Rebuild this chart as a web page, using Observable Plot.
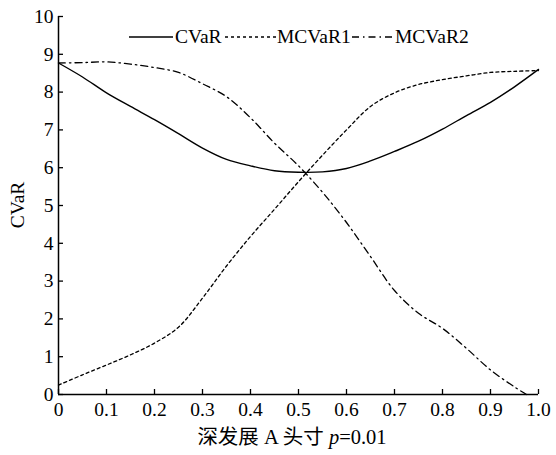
<!DOCTYPE html>
<html>
<head>
<meta charset="utf-8">
<script src="https://cdn.jsdelivr.net/npm/d3@7"></script>
<script src="https://cdn.jsdelivr.net/npm/@observablehq/plot@0.6"></script>
<style>
  body { margin: 0; background: #fff; }
  #wrap { position: relative; width: 556px; height: 455px; font-family: "Liberation Serif", "Noto Sans CJK SC", serif; color: #000; }
  #wrap svg text { font-family: "Liberation Serif", serif; }
  .ov { position: absolute; white-space: nowrap; font-size: 19.5px; line-height: 1; }
</style>
</head>
<body>
<div id="wrap"></div>
<script>
const xs = [0, 0.05, 0.1, 0.15, 0.2, 0.25, 0.3, 0.35, 0.4, 0.45, 0.5, 0.55, 0.6, 0.65, 0.7, 0.75, 0.8, 0.85, 0.9, 0.95, 1.0];
const cvar   = [8.77, 8.40, 7.98, 7.62, 7.27, 6.90, 6.52, 6.22, 6.05, 5.92, 5.88, 5.89, 5.98, 6.18, 6.43, 6.70, 7.02, 7.38, 7.73, 8.14, 8.60];
const mcvar1 = [0.25, 0.52, 0.78, 1.05, 1.36, 1.78, 2.55, 3.40, 4.18, 4.90, 5.63, 6.33, 7.00, 7.62, 7.98, 8.20, 8.33, 8.43, 8.52, 8.55, 8.57];
const xs2    = [0, 0.05, 0.1, 0.15, 0.2, 0.25, 0.3, 0.35, 0.4, 0.45, 0.5, 0.55, 0.6, 0.65, 0.7, 0.75, 0.8, 0.85, 0.9, 0.95, 0.975];
const mcvar2 = [8.77, 8.78, 8.80, 8.74, 8.65, 8.52, 8.22, 7.88, 7.32, 6.65, 6.05, 5.35, 4.55, 3.65, 2.75, 2.15, 1.75, 1.22, 0.65, 0.20, 0.0];
const xTicks = [0, 0.1, 0.2, 0.3, 0.4, 0.5, 0.6, 0.7, 0.8, 0.9, 1.0];
const yTicks = [0, 1, 2, 3, 4, 5, 6, 7, 8, 9, 10];
const seriesNames = ["CVaR", "MCVaR1", "MCVaR2"];

const d1 = xs.map((x, i) => ({x, y: cvar[i]}));
const d2 = xs.map((x, i) => ({x, y: mcvar1[i]}));
const d3s = xs2.map((x, i) => ({x, y: mcvar2[i]}));

const fmtX = d => d === 0 ? "0" : d.toFixed(1);

const chart = Plot.plot({
  width: 556,
  height: 455,
  marginLeft: 58,
  marginRight: 18,
  marginTop: 16,
  marginBottom: 61,
  style: { fontFamily: "'Liberation Serif', serif", fontSize: "19.5px", color: "#000", background: "#fff" },
  x: { domain: [0, 1], label: null },
  y: { domain: [0, 10], label: null },
  marks: [
    Plot.axisX({ ticks: xTicks, tickSize: -5, text: null, label: null, strokeWidth: 1.3 }),
    Plot.axisX({ ticks: xTicks, tickSize: 0, tickPadding: 8, tickFormat: fmtX, label: null, fontSize: 19.5 }),
    Plot.axisY({ ticks: yTicks, tickSize: -5, text: null, label: null, strokeWidth: 1.3 }),
    Plot.axisY({ ticks: yTicks, tickSize: 0, tickPadding: 5, label: null, fontSize: 19.5 }),
    Plot.ruleY([0], { stroke: "#000", strokeWidth: 1.5 }),
    Plot.ruleX([0], { stroke: "#000", strokeWidth: 1.5 }),
    Plot.line(d1, { x: "x", y: "y", stroke: "#000", strokeWidth: 1.4, curve: "catmull-rom" }),
    Plot.line(d2, { x: "x", y: "y", stroke: "#000", strokeWidth: 1.3, strokeDasharray: "3,3", curve: "catmull-rom" }),
    Plot.line(d3s, { x: "x", y: "y", stroke: "#000", strokeWidth: 1.3, strokeDasharray: "7,4,1.5,4", curve: "catmull-rom" })
  ]
});

const wrap = document.getElementById("wrap");
wrap.appendChild(chart);

// Y label
const yl = document.createElement("div");
yl.className = "ov";
yl.textContent = "CVaR";
yl.style.left = "18px";
yl.style.top = "205px";
yl.style.transform = "translate(-50%, -50%) rotate(-90deg)";
wrap.appendChild(yl);

// X label
const xl = document.createElement("div");
xl.className = "ov";
xl.style.fontSize = "20.5px";
xl.innerHTML = "深发展 A 头寸 <i>p</i>=0.01";
xl.style.left = "292px";
xl.style.top = "437px";
xl.style.transform = "translate(-50%, -50%)";
wrap.appendChild(xl);

// Legend
const dashes = ["", "3,3", "7,4,1.5,4"];
const sampleX = [129, 225, 352];
const sampleW = [44, 51, 41];
const textX = [175, 277, 395];
seriesNames.forEach((name, i) => {
  const s = document.createElement("div");
  s.className = "ov";
  s.style.left = sampleX[i] + "px";
  s.style.top = "28px";
  s.innerHTML = `<svg width="${sampleW[i]}" height="18" style="display:block"><line x1="0" x2="${sampleW[i]}" y1="9" y2="9" stroke="#000" stroke-width="1.4" ${dashes[i] ? `stroke-dasharray="${dashes[i]}"` : ""}/></svg>`;
  wrap.appendChild(s);
  const t = document.createElement("div");
  t.className = "ov";
  t.style.left = textX[i] + "px";
  t.style.top = "37px";
  t.style.transform = "translateY(-50%)";
  t.textContent = name;
  wrap.appendChild(t);
});
</script>
</body>
</html>
